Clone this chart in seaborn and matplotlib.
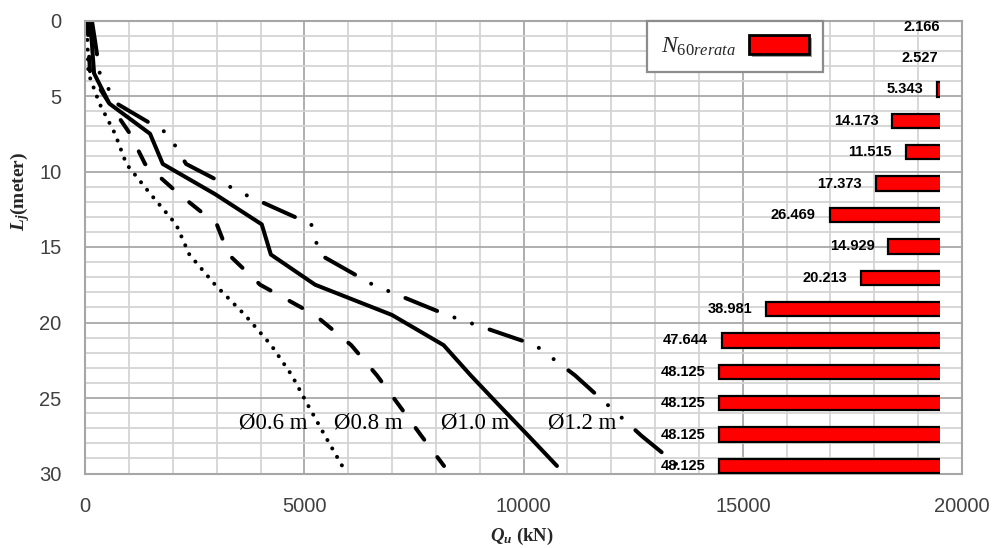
import numpy as np
import pandas as pd
import matplotlib
matplotlib.use("Agg")
import matplotlib.pyplot as plt
import matplotlib.patches as mpatches
import matplotlib.patheffects as pe
from matplotlib.ticker import MultipleLocator
from matplotlib import font_manager as fm
import seaborn as sns

# ---------------- data ----------------
depth_m = [0, 1.5, 3.5, 5.5, 7.5, 9.5, 11.5, 13.5, 15.5, 17.5, 19.5, 21.5, 23.5, 25.5, 27.5, 29.5]
qu_d06 = [30, 50, 70, 324, 678, 936, 1489, 2071, 2374, 2961, 3641, 4240, 4712, 5084, 5468, 5861]
qu_d08 = [50, 70, 110, 550, 1020, 1363, 2140, 3000, 3270, 3989, 5237, 6066, 6653, 7162, 7665, 8183]
qu_d10 = [100, 150, 200, 548, 1477, 1767, 2961, 4025, 4233, 5244, 6995, 8174, 8792, 9445, 10107, 10760]
qu_d12 = [150, 230, 330, 717, 1888, 2299, 3623, 5155, 5347, 6562, 8249, 10265, 11171, 11934, 12687, 13532]
diameter_labels = ["Ø0.6 m", "Ø0.8 m", "Ø1.0 m", "Ø1.2 m"]

n60_layers = ["L1", "L2", "L3", "L4", "L5", "L6", "L7", "L8", "L9", "L10",
              "L11", "L12", "L13", "L14", "L15"]
n60_values = [2.166, 2.527, 5.343, 14.173, 11.515, 17.373, 26.469, 14.929, 20.213,
              38.981, 47.644, 48.125, 48.125, 48.125, 48.125]

x_ticks = [0, 5000, 10000, 15000, 20000]
y_ticks = [0, 5, 10, 15, 20, 25, 30]

# ---------------- style ----------------
sns.set_style("white")
names = {f.name for f in fm.fontManager.ttflist}
NARROW = "Liberation Sans Narrow" if "Liberation Sans Narrow" in names else None

plt.rcParams.update({
    "font.family": ["Liberation Sans", "DejaVu Sans"],
    "mathtext.fontset": "custom",
    "mathtext.rm": "Liberation Serif",
    "mathtext.it": "Liberation Serif:italic",
    "mathtext.bf": "Liberation Serif:bold",
    "mathtext.bfit": "Liberation Serif:italic:bold",
})

W_PX, H_PX = 994, 548
fig = plt.figure(figsize=(W_PX / 100, H_PX / 100), dpi=100)
fig.patch.set_facecolor("white")

ax_l, ax_r, ax_t, ax_b = 85.3, 962.0, 20.5, 473.5
ax = fig.add_axes([ax_l / W_PX, 1 - ax_b / H_PX, (ax_r - ax_l) / W_PX, (ax_b - ax_t) / H_PX])

series = {
    "Ø0.6 m": qu_d06,
    "Ø0.8 m": qu_d08,
    "Ø1.0 m": qu_d10,
    "Ø1.2 m": qu_d12,
}
line_styles = {
    "Ø0.6 m": (0, (0.01, 2.4)),
    "Ø0.8 m": (0, (3.6, 5.4)),
    "Ø1.0 m": "-",
    "Ø1.2 m": (0, (8.5, 4.6, 0.01, 4.6, 0.01, 4.6)),
}
df = pd.concat([pd.DataFrame({"Qu": v, "depth": depth_m, "pile": k}) for k, v in series.items()])

for name in diameter_labels:
    sub = df[df["pile"] == name]
    sns.lineplot(data=sub, x="Qu", y="depth", sort=False, estimator=None, ax=ax,
                 color="black", lw=2.9, linestyle=line_styles[name],
                 dash_capstyle="round", solid_capstyle="round", solid_joinstyle="round")

ax.set_xlim(0, 20000)
ax.set_ylim(30, 0)
ax.set_xticks(x_ticks)
ax.set_yticks(y_ticks)
ax.xaxis.set_minor_locator(MultipleLocator(1000))
ax.yaxis.set_minor_locator(MultipleLocator(1))
ax.set_axisbelow(True)
ax.grid(which="minor", color="#d4d4d4", lw=1.3)
ax.grid(which="major", color="#a8a8a8", lw=1.3)
for s in ax.spines.values():
    s.set_color("#a6a6a6")
    s.set_linewidth(1.5)
ax.tick_params(axis="x", which="both", length=0, pad=17, labelsize=14.5, labelcolor="#404040")
ax.tick_params(axis="y", which="both", length=3, width=1, color="#a6a6a6", direction="out",
               pad=14, labelsize=14.5, labelcolor="#404040")
ax.set_xticklabels([str(t) for t in x_ticks])
ax.set_yticklabels([str(t) for t in y_ticks])

ax.set_xlabel(r"$\mathbfit{Q}_{\mathbfit{u}}$ (kN)", fontfamily="Liberation Serif",
              fontweight="bold", fontsize=13.5, va="center", ha="center")
ax.xaxis.set_label_coords(0.498, -0.14)
ax.set_ylabel(r"$\mathbfit{L}_{\mathbfit{j}}$(meter)", fontfamily="Liberation Serif",
              fontweight="bold", fontsize=14, va="center", ha="center")
ax.yaxis.set_label_coords(-0.0745, 0.624)

# diameter annotations
label_q = [4285, 6461, 8886, 11340]
label_depth = 26.65
for txt, q in zip(diameter_labels, label_q):
    ax.text(q, label_depth, txt, ha="center", va="center", fontsize=16.5,
            fontfamily="Liberation Serif", color="black")

# ---------------- N60 bars (secondary axes) ----------------
bar_right_px = 940.0
ax2 = fig.add_axes([ax_l / W_PX, 1 - ax_b / H_PX, (bar_right_px - ax_l) / W_PX, (ax_b - ax_t) / H_PX])
bdf = pd.DataFrame({"layer": n60_layers, "N60": n60_values})
sns.barplot(data=bdf, x="N60", y="layer", orient="h", ax=ax2, color="#ff0000",
            edgecolor="black", linewidth=1.6, width=0.46, saturation=1)
scale = 5.096
zero_px = 964.5
ax2.set_xlim((zero_px - ax_l) / scale, (zero_px - bar_right_px) / scale)
ax2.set_ylim(14.24, -0.198)
ax2.axis("off")

lab_font = dict(fontfamily=NARROW, fontsize=13) if NARROW else dict(fontfamily="Liberation Sans", fontsize=10.5)
for i, v in enumerate(n60_values):
    ax2.annotate(f"{v:.3f}", xy=(v, i), xytext=(-10, 0), textcoords="offset points",
                 ha="right", va="center", fontweight="bold", color="black",
                 annotation_clip=False, **lab_font)

handle = mpatches.Patch(facecolor="#ff0000", edgecolor="black", linewidth=2)
leg = ax2.legend(handles=[handle], labels=[r"$N_{\mathit{60rerata}}$"],
                 loc="upper left", bbox_to_anchor=(647 / W_PX, 1 - 21 / H_PX),
                 bbox_transform=fig.transFigure, borderaxespad=0, borderpad=0.6,
                 markerfirst=False, handlelength=2.54, handleheight=0.85,
                 handletextpad=0.55, fontsize=17, frameon=True, fancybox=False,
                 framealpha=1, facecolor="white", edgecolor="#8c8c8c")
leg.get_frame().set_linewidth(1.6)
for h in leg.legend_handles:
    h.set_path_effects([pe.SimplePatchShadow(offset=(2, -2), shadow_rgbFace="#a0a0a0", alpha=1),
                        pe.Normal()])

fig.savefig("out.png", dpi=100, facecolor="white")
